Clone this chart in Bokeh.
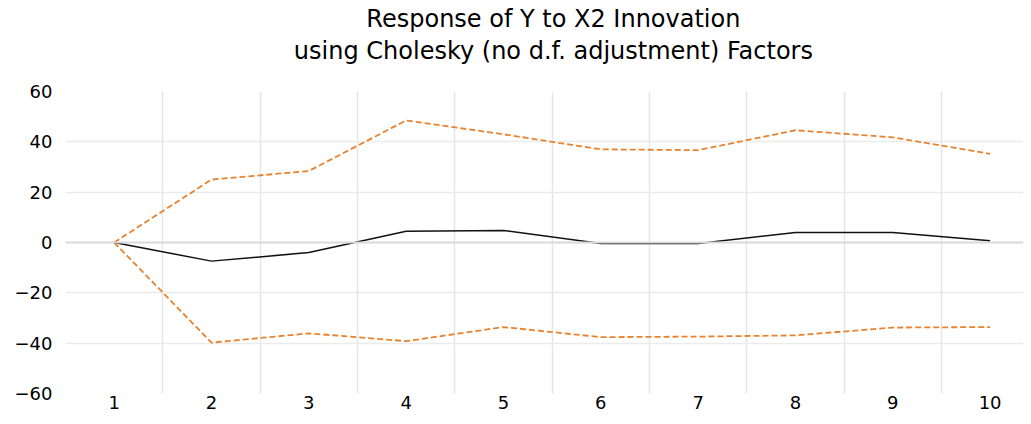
from bokeh.plotting import figure
from bokeh.models import Range1d, FixedTicker, Span, Label
from bokeh.layouts import column
from bokeh.embed import file_html
from bokeh.resources import INLINE

# Data
periods = [1, 2, 3, 4, 5, 6, 7, 8, 9, 10]
response = [0.0, -7.4, -4.0, 4.5, 4.8, -0.4, -0.4, 4.0, 4.0, 0.7]
upper_band = [0.0, 25.0, 28.4, 48.5, 43.0, 37.0, 36.7, 44.6, 41.8, 35.2]
lower_band = [0.0, -39.8, -36.1, -39.2, -33.6, -37.6, -37.4, -36.9, -33.8, -33.6]
y_ticks = [-60, -40, -20, 0, 20, 40, 60]
title_line1 = "Response of Y to X2 Innovation"
title_line2 = "using Cholesky (no d.f. adjustment) Factors"

FONT = "DejaVu Sans"
ORANGE = "#E8822F"
W = 1023
HEAD_H = 79
TOTAL_H = 416

# ---- header strip holding the two-line title (pixel-like coordinates) ----
head = figure(width=W, height=HEAD_H, x_range=Range1d(0, W), y_range=Range1d(HEAD_H, 0),
              output_backend="svg", toolbar_location=None, title=None,
              x_axis_location=None, y_axis_location=None,
              min_border=0, min_border_left=0, min_border_right=0,
              min_border_top=0, min_border_bottom=0)
head.grid.visible = False
head.outline_line_color = None
head.background_fill_color = "white"
head.border_fill_color = "white"
for txt, yy in ((title_line1, 18), (title_line2, 50.5)):
    head.add_layout(Label(x=521, y=yy, text=txt, text_align="center",
                          text_baseline="middle", text_font=FONT,
                          text_font_size="24px", text_color="#000000"))

# ---- main chart ----
p = figure(width=W, height=TOTAL_H - HEAD_H,
           x_range=Range1d(0.5, 10.343), y_range=Range1d(-60, 60),
           output_backend="svg", toolbar_location=None, title=None,
           min_border_left=65, min_border_right=0,
           min_border_top=91 - HEAD_H, min_border_bottom=23)
p.outline_line_color = None
p.background_fill_color = "white"
p.border_fill_color = "white"

p.xaxis.ticker = FixedTicker(ticks=periods)
p.yaxis.ticker = FixedTicker(ticks=y_ticks)
for ax in (p.xaxis[0], p.yaxis[0]):
    ax.axis_line_color = None
    ax.major_tick_line_color = None
    ax.minor_tick_line_color = None
    ax.major_tick_in = 0
    ax.major_tick_out = 0
    ax.minor_tick_in = 0
    ax.minor_tick_out = 0
    ax.major_label_text_font = FONT
    ax.major_label_text_font_size = "18px"
    ax.major_label_text_color = "#000000"
p.xaxis.major_label_standoff = 2
p.yaxis.major_label_standoff = 13

p.xgrid.ticker = FixedTicker(ticks=[1.5, 2.5, 3.5, 4.5, 5.5, 6.5, 7.5, 8.5, 9.5])
p.xgrid.grid_line_color = "#e6e6e6"
p.xgrid.grid_line_width = 1.5
p.ygrid.ticker = FixedTicker(ticks=[-40, -20, 20, 40])
p.ygrid.grid_line_color = "#ebebeb"
p.ygrid.grid_line_width = 1.5

zero = Span(location=0, dimension="width", line_color="#d9d9d9", line_width=2)
p.add_layout(zero)

p.line(periods, upper_band, line_color=ORANGE, line_width=1.8, line_dash="6 3")
p.line(periods, lower_band, line_color=ORANGE, line_width=1.8, line_dash="6 3")
p.line(periods, response, line_color="#111111", line_width=1.5)

layout = column(head, p, spacing=0)
open("out.html", "w").write(file_html(layout, INLINE))
